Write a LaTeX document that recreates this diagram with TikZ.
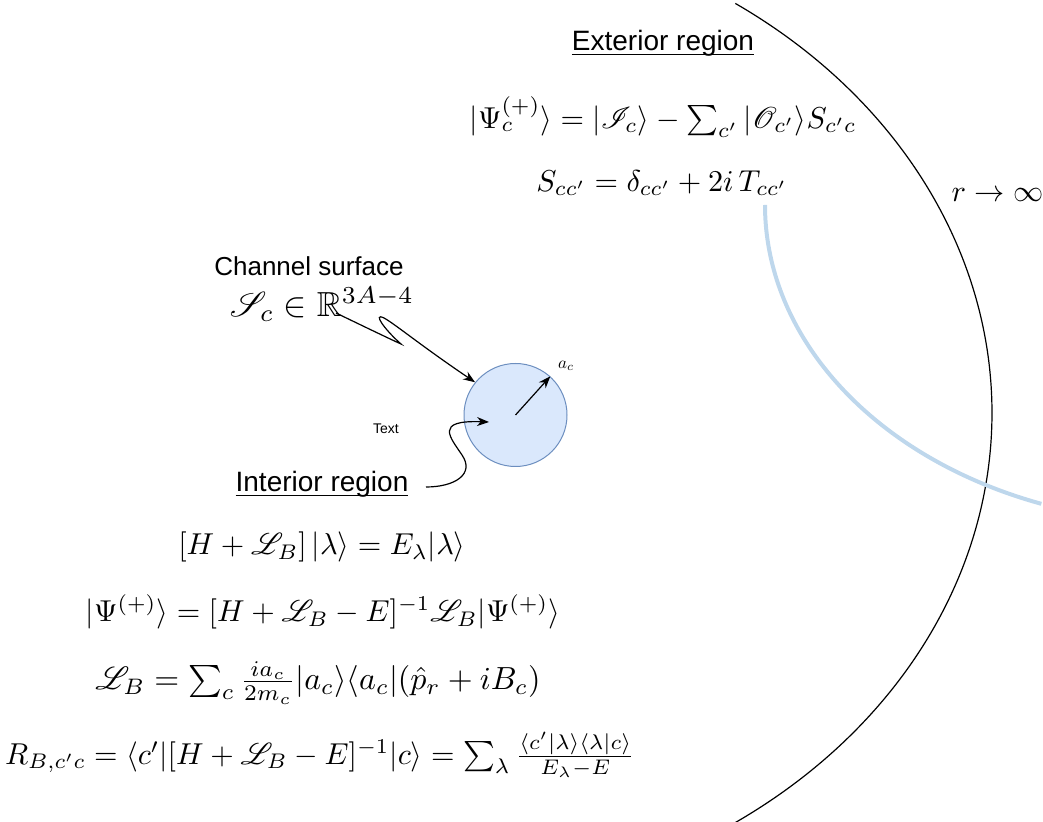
\documentclass[tikz,border=0pt]{standalone}
\usepackage{amsmath}
\usepackage{amssymb}
\usepackage{mathrsfs}
\usepackage{fontspec}
\setsansfont{Liberation Sans}
\usetikzlibrary{arrows.meta}
\definecolor{ballfill}{HTML}{DAE8FC}
\definecolor{ballline}{HTML}{6C8EBF}
\definecolor{pathblue}{RGB}{190,215,236}
\tikzset{
  lbl/.style={font=\sffamily\fontsize{14}{17}\selectfont},
  eqn/.style={scale=1.51, inner sep=0pt},
  conn/.style={-{Stealth[length=6pt,width=4.5pt]}, line width=0.6pt},
}
\begin{document}
\begin{tikzpicture}[x=0.5pt,y=-0.5pt]
\useasboundingbox (0,0) rectangle (1043,822);
% outer boundary and exterior equations
\draw[line width=0.6pt] ([shift={(-55.5:592 and 497)}]400,413) arc[start angle=-55.5,end angle=55.5,x radius=592,y radius=497];
\draw[pathblue, line width=2pt] (765,205) arc[start angle=180,end angle=110,x radius=420,y radius=318];
\node[lbl] (ext) at (663,43) {\underline{\smash[b]{Exterior region}}};
\node[eqn] (psiout) at (663,117) {$|\Psi_c^{(+)}\rangle = |\mathscr{I}_c\rangle - \sum_{c'} |\mathscr{O}_{c'}\rangle S_{c'c}$};
\node[eqn] (smat) at (662,183) {$S_{cc'} = \delta_{cc'} + 2i\,T_{cc'}$};
\node[eqn, anchor=west] (rinf) at (951,195) {$r \rightarrow \infty$};
% channel surface
\node[lbl, font=\sffamily\fontsize{13}{16}\selectfont] (chan) at (309,266) {Channel surface};
\node[eqn, scale=1.74/1.51] (surf) at (322,304) {$\mathscr{S}_c \in \mathbb{R}^{3A-4}$};
\node[circle, draw=ballline, fill=ballfill, line width=0.5pt, minimum size=51.5pt, inner sep=0pt] (ball) at (515.5,415) {};
\node[scale=0.85] (ac) at (566,366) {$a_c$};
\draw[conn] (ball.center) -- (ball.48);
\coordinate (s0) at (336,313);
\draw[conn] (s0) .. controls (365,327) and (392,340) .. (401,344) .. controls (385,330) and (372,312) .. (384,318) .. controls (395,324) and (420,345) .. (ball.141);
% interior
\node[font=\sffamily\fontsize{7}{8}\selectfont] (txt) at (386,429) {Text};
\node[lbl] (intr) at (322,484) {\underline{\smash[b]{Interior region}}};
\coordinate (i0) at (426,487);
\coordinate (i1) at (489,422);
\draw[conn] (i0) .. controls (455,487) and (475,474) .. (462,455) .. controls (450,437) and (434,420) .. (i1);
\node[eqn] (eig) at (322,547) {$[H + \mathscr{L}_B]\,|\lambda\rangle = E_\lambda|\lambda\rangle$};
\node[eqn] (lse) at (323,612) {$|\Psi^{(+)}\rangle = [H + \mathscr{L}_B - E]^{-1}\mathscr{L}_B|\Psi^{(+)}\rangle$};
\node[eqn, scale=1.6/1.51] (bloch) at (318,683) {$\mathscr{L}_B = \sum_c \frac{ia_c}{2m_c}|a_c\rangle\langle a_c|(\hat{p}_r + iB_c)$};
\node[eqn] (rmat) at (320,755) {$R_{B,c'c} = \langle c'|[H + \mathscr{L}_B - E]^{-1}|c\rangle = \sum_\lambda \frac{\langle c'|\lambda\rangle\langle\lambda|c\rangle}{E_\lambda - E}$};
\end{tikzpicture}
\end{document}
